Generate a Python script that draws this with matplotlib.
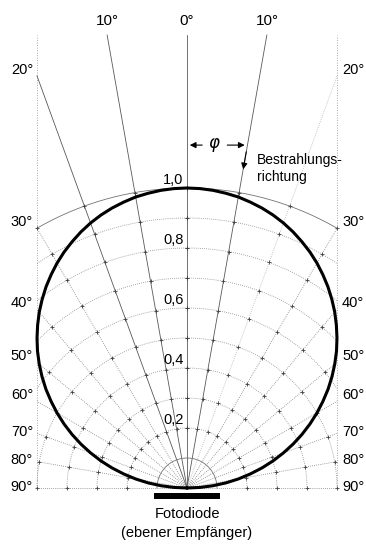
import numpy as np
import matplotlib
matplotlib.use("Agg")
import matplotlib.pyplot as plt
from matplotlib.patches import Rectangle

# directional characteristic (relative sensitivity), phi = 0..90 deg in 2.5 deg steps
phi_deg = [0, 2.5, 5, 7.5, 10, 12.5, 15, 17.5, 20, 22.5, 25, 27.5, 30, 32.5, 35, 37.5,
           40, 42.5, 45, 47.5, 50, 52.5, 55, 57.5, 60, 62.5, 65, 67.5, 70, 72.5, 75,
           77.5, 80, 82.5, 85, 87.5, 90]
sens = [1.000, 0.999, 0.996, 0.991, 0.985, 0.976, 0.966, 0.954, 0.940, 0.924, 0.906,
        0.887, 0.866, 0.843, 0.819, 0.793, 0.766, 0.737, 0.707, 0.676, 0.643, 0.609,
        0.574, 0.537, 0.500, 0.462, 0.423, 0.383, 0.342, 0.301, 0.259, 0.216, 0.174,
        0.131, 0.087, 0.044, 0.000]

grid_angles = [0, 10, 20, 30, 40, 50, 60, 70, 80, 90]
grid_radii = [0.1, 0.2, 0.3, 0.4, 0.5, 0.6, 0.7, 0.8, 0.9, 1.0]
ring_values = [0.2, 0.4, 0.6, 0.8, 1.0]
ring_labels = ["0,2", "0,4", "0,6", "0,8", "1,0"]
side_angles = [20, 30, 40, 50, 60, 70, 80, 90]
top_angles = [-10, 0, 10]

FONT = ["Liberation Sans", "DejaVu Sans"]
XB = 0.5     # half width of the frame
YT = 1.51    # top of the frame

fig = plt.figure(figsize=(3.66, 5.45), dpi=100)
ax = fig.add_axes([0, 0, 1, 1])
ax.set_xlim(-187 / 300, 179 / 300)
ax.set_ylim(-57 / 300, 488 / 300)
ax.axis("off")


def label(x, y, s, size, **kw):
    ax.text(x, y, s, fontsize=size, family=FONT, **kw)


# frame (dotted)
ax.plot([-XB, -XB], [0, YT], color="0.55", lw=0.6, ls=(0, (1, 2)))
ax.plot([XB, XB], [0, YT], color="0.55", lw=0.6, ls=(0, (1, 2)))

# radial lines
for a in grid_angles:
    for s in ([1] if a == 0 else [-1, 1]):
        t = np.radians(a)
        lim = []
        if np.cos(t) > 1e-9:
            lim.append(YT / np.cos(t))
        if np.sin(t) > 1e-9:
            lim.append(XB / np.sin(t))
        L = min(lim)
        solid = a == 0 or a == 10 or (a == 20 and s < 0)
        faint = a == 20 and s > 0
        ax.plot([0, s * L * np.sin(t)], [0, L * np.cos(t)],
                color="0.35" if solid else ("0.7" if faint else "0.5"), lw=0.6,
                ls="-" if solid else (0, (1, 1.5)))

# arcs
for r in grid_radii:
    amax = np.pi / 2 if r <= XB else np.arcsin(XB / r)
    th = np.linspace(-amax, amax, 300)
    solid = r in (0.1, 1.0)
    ax.plot(r * np.sin(th), r * np.cos(th), color="0.45" if solid else "0.55",
            lw=0.6, ls="-" if solid else (0, (1, 1.5)))

# small crosses at the grid intersections
for r in grid_radii[1:]:
    for a in grid_angles:
        for s in [-1, 1]:
            x = s * r * np.sin(np.radians(a))
            y = r * np.cos(np.radians(a))
            if abs(x) <= XB + 1e-6:
                ax.plot(x, y, marker="+", ms=3, mew=0.6, color="0.25")

# ring labels
for v, lab in zip(ring_values, ring_labels):
    label(-0.012, v + 0.015, lab, 10.5, ha="right", va="baseline")

# angle labels at the frame sides
for a in side_angles:
    y = XB / np.tan(np.radians(a))
    y += 0.02 if a <= 60 else 0.004
    label(-XB - 0.013, y, f"{a}°", 10.5, ha="right", va="center")
    label(XB + 0.017, y, f"{a}°", 10.5, ha="left", va="center")

for a in top_angles:
    label(YT * np.tan(np.radians(a)), 1.557, f"{abs(a)}°", 11, ha="center", va="center")

# directional characteristic
ph = np.radians(np.array([-p for p in phi_deg[::-1]] + phi_deg[1:]))
rr = np.array(sens[::-1] + sens[1:])
ax.plot(rr * np.sin(ph), rr * np.cos(ph), color="black", lw=2.2,
        solid_capstyle="round", solid_joinstyle="round")

# angle phi and direction of irradiation
yphi = 1.143
t10 = np.tan(np.radians(10))
ax.annotate("", xy=(0, yphi), xytext=(0.06, yphi),
            arrowprops=dict(arrowstyle="-|>", lw=0.8, color="black", mutation_scale=9))
ax.annotate("", xy=(yphi * t10, yphi), xytext=(0.125, yphi),
            arrowprops=dict(arrowstyle="-|>", lw=0.8, color="black", mutation_scale=9))
ax.text(0.09, yphi, r"$\varphi$", ha="center", va="center", fontsize=12)
ax.annotate("", xy=(1.053 * t10, 1.053), xytext=(1.13 * t10, 1.13),
            arrowprops=dict(arrowstyle="-|>", lw=0.8, color="black", mutation_scale=9))
label(0.233, 1.093, "Bestrahlungs-", 10, ha="left", va="center")
label(0.233, 1.037, "richtung", 10, ha="left", va="center")

# photodiode
ax.add_patch(Rectangle((-0.11, -0.036), 0.22, 0.02, color="black", lw=0))
label(0, -0.087, "Fotodiode", 10.5, ha="center", va="center")
label(0, -0.15, "(ebener Empfänger)", 10.5, ha="center", va="center")

fig.savefig("out.png", dpi=100)
